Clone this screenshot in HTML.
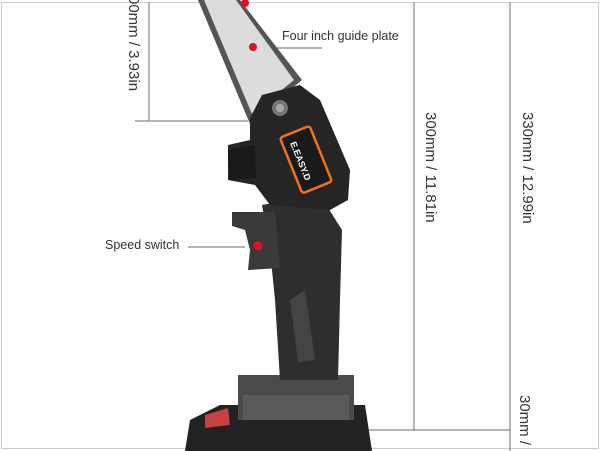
<!DOCTYPE html>
<html><head><style>
body{margin:0;background:#fff;}
.w{position:relative;width:600px;height:451px;overflow:hidden;background:#fff;font-family:"Liberation Sans",sans-serif;}
.v{position:absolute;transform-origin:0 0;transform:rotate(90deg);white-space:nowrap;font-size:15px;color:#333;}
</style></head><body><div class="w">
<svg width="600" height="451" style="position:absolute;left:0;top:0">
<rect x="1.5" y="2.5" width="597" height="446" fill="none" stroke="#ccc"/>
<g stroke="#888" stroke-width="1.2" fill="none">
<line x1="149" y1="2" x2="149" y2="121"/>
<line x1="135" y1="121" x2="248" y2="121"/>
<line x1="414" y1="2" x2="414" y2="430"/>
<line x1="510" y1="2" x2="510" y2="451"/>
<line x1="260" y1="430" x2="510" y2="430"/>
<line x1="188" y1="247" x2="245" y2="247"/>
<line x1="258" y1="48" x2="322" y2="48"/>
</g>
<polygon points="198,0 240,0 302,80 250,124" fill="#555"/>
<polygon points="204,0 236,0 294,80 252,114" fill="#dcdcdc"/>
<circle cx="245" cy="3" r="4" fill="#e01020"/>
<circle cx="253" cy="47" r="4" fill="#e01020"/>
<polygon points="190,420 220,405 365,405 372,451 185,451" fill="#222"/>
<rect x="238" y="375" width="116" height="45" fill="#4a4a4a"/>
<rect x="243" y="395" width="106" height="25" fill="#5a5a5a"/>
<polygon points="205,415 228,408 230,425 205,428" fill="#c84040"/>
<polygon points="262,205 320,195 342,230 340,300 338,380 280,380 275,300 270,250" fill="#2e2e2e"/>
<polygon points="290,300 305,290 315,360 298,362" fill="#444"/>
<polygon points="232,212 275,212 280,268 248,270 250,250 245,230 232,226" fill="#3a3a3a"/>
<circle cx="258" cy="246" r="4.5" fill="#e01020"/>
<polygon points="250,118 262,95 300,85 320,100 350,170 348,200 330,210 270,205 255,185 228,180 228,145 250,140" fill="#252525"/>
<polygon points="228,150 255,145 256,178 230,180" fill="#1a1a1a"/>
<circle cx="280" cy="108" r="8" fill="#777"/><circle cx="280" cy="108" r="4" fill="#aaa"/>
<g transform="translate(305,160) rotate(-22)">
<rect x="-15" y="-30" width="32" height="60" rx="3" fill="#1a1a1a" stroke="#f07020" stroke-width="2.5"/>
</g>
</svg>
<div style="position:absolute;left:282px;top:29px;font-size:12.5px;color:#333">Four inch guide plate</div>
<div style="position:absolute;left:105px;top:238px;font-size:12.5px;color:#333">Speed switch</div>
<div class="v" style="left:142px;top:-4px">00mm / 3.93in</div>
<div class="v" style="left:439px;top:112px">300mm / 11.81in</div>
<div class="v" style="left:536px;top:112px">330mm / 12.99in</div>
<div class="v" style="left:533px;top:395px">30mm /</div>
<div style="position:absolute;left:280px;top:156px;transform:rotate(68deg);font-size:9px;color:#fff;font-weight:bold;white-space:nowrap">E.EASY.D</div>
</div></body></html>
